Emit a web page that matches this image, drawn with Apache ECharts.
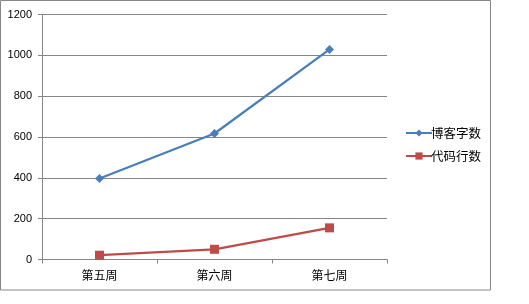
<!DOCTYPE html>
<html><head><meta charset="utf-8">
<script src="https://cdn.jsdelivr.net/npm/echarts@6/dist/echarts.min.js"></script>
<style>html,body{margin:0;padding:0;background:#fff}#c{width:529px;height:304px}</style>
</head><body><div id="c"></div>
<script>
const categories = ['第五周', '第六周', '第七周'];
const blogWords = [397, 617, 1029];
const codeLines = [21, 50, 155];
const seriesNames = ['博客字数', '代码行数'];
const yTicks = [0, 200, 400, 600, 800, 1000, 1200];

const chart = echarts.init(document.getElementById('c'), null, {renderer: 'canvas'});
chart.setOption({
  animation: false,
  backgroundColor: '#fff',
  graphic: [{
    type: 'rect', shape: {x: 0.5, y: 0.5, width: 490, height: 289.5},
    style: {fill: 'none', stroke: '#868686', lineWidth: 1}, z: -1
  }],
  grid: {left: 42, right: 142, top: 14.5, bottom: 44.5, containLabel: false},
  legend: {
    orient: 'vertical', left: 400, top: 121, itemWidth: 26, itemHeight: 9, itemGap: 9,
    textStyle: {fontFamily: 'Noto Sans CJK SC', fontSize: 12.5, lineHeight: 14, color: '#000', padding: [0,0,0,-6]},
    data: seriesNames
  },
  xAxis: {
    type: 'category', data: categories, boundaryGap: true,
    axisLine: {lineStyle: {color: '#868686', width: 1}},
    axisTick: {show: true, length: 4, lineStyle: {color: '#868686'}},
    axisLabel: {fontFamily: 'Noto Sans CJK SC', fontSize: 12, color: '#000', margin: 10}
  },
  yAxis: {
    type: 'value', min: 0, max: 1200, interval: 200,
    axisLine: {show: true, lineStyle: {color: '#868686', width: 1}},
    axisTick: {show: true, length: 4, lineStyle: {color: '#868686'}},
    splitLine: {lineStyle: {color: '#868686', width: 1}},
    axisLabel: {fontFamily: 'Liberation Sans', fontSize: 11, color: '#000', margin: 10,
      formatter: v => yTicks.includes(v) ? String(v) : ''}
  },
  series: [{
    name: seriesNames[0], type: 'line', data: blogWords,
    symbol: 'diamond', symbolSize: 9,
    lineStyle: {color: '#4A7EBB', width: 2.25},
    itemStyle: {color: '#4A7EBB'}
  }, {
    name: seriesNames[1], type: 'line', data: codeLines,
    symbol: 'rect', symbolSize: 9,
    lineStyle: {color: '#BE4B48', width: 2.25},
    itemStyle: {color: '#BE4B48'}
  }]
});
</script></body></html>
